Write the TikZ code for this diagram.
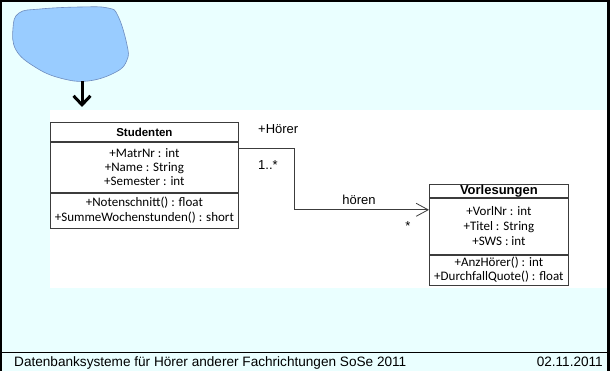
\documentclass[tikz,border=0pt]{standalone}
\usepackage{fontspec}
\setmainfont{Liberation Sans}
\newfontfamily\calibri{Carlito}
\usetikzlibrary{arrows.meta}
\definecolor{bgc}{RGB}{234,255,255}
\definecolor{blobfill}{RGB}{153,204,255}
\definecolor{blobline}{RGB}{110,140,190}
\definecolor{umlline}{RGB}{60,60,60}
\begin{document}
\begin{tikzpicture}[x=1pt,y=-1pt,
  classhdr/.style={draw=umlline, line width=0.8pt, fill=white, anchor=north west, inner sep=0pt, font=\bfseries\fontsize{11.5}{12}\selectfont},
  classsec/.style={draw=umlline, line width=0.8pt, fill=white, anchor=north west, inner sep=0pt, align=center},
  lbl/.style={inner sep=0pt, font=\fontsize{13}{14}\selectfont},
  footlbl/.style={inner sep=0pt, font=\fontsize{13.6}{14}\selectfont},
  assoc/.style={draw=umlline, line width=0.8pt, -{Straight Barb[length=12pt,width=13pt]}},
  bigarrow/.style={line width=3pt, -{Straight Barb[length=9pt,width=17pt]}}
]
\useasboundingbox (0,0) rectangle (610,371);
\fill[bgc] (0,0) rectangle (610,371);
\fill[white] (50,110) rectangle (607,288);
% frame
\fill[black] (0,0) rectangle (2,371);
\fill[black] (0,0) rectangle (610,2);
\fill[black] (607,0) rectangle (610,371);
\draw[line width=1pt] (0,352) -- (610,352);
% blob
\draw[fill=blobfill, draw=blobline, line width=0.6pt] plot[smooth cycle, tension=0.7] coordinates
 {(13,28) (19,13) (40,9) (80,7) (108,8) (118,16) (127,45) (127,60) (116,72) (88,81) (60,78) (35,67) (16,50)};
\coordinate (blobtip) at (82,81);
\coordinate (arrowend) at (82,107);
\draw[bigarrow] (blobtip) -- (arrowend);
% Studenten
\node[classhdr, minimum width=188pt, minimum height=19pt] (studH) at (50,122) {Studenten};
\node[classsec, minimum width=188pt, minimum height=50pt, font=\calibri\fontsize{13}{14}\selectfont] (studA) at (studH.south west) {+MatrNr : int\\+Name : String\\+Semester : int};
\node[classsec, minimum width=188pt, minimum height=35pt, font=\calibri\fontsize{13}{15}\selectfont] (studM) at (studA.south west) {+Notenschnitt() : float\\+SummeWochenstunden() : short};
% Vorlesungen
\node[classhdr, minimum width=139pt, minimum height=13pt, font=\bfseries\fontsize{13}{13}\selectfont] (vorlH) at (429,184) {Vorlesungen};
\node[classsec, minimum width=139pt, minimum height=56pt, font=\calibri\fontsize{13}{15}\selectfont] (vorlA) at (vorlH.south west) {+VorlNr : int\\+Titel : String\\+SWS : int};
\node[classsec, minimum width=139pt, minimum height=30pt, font=\calibri\fontsize{13}{14}\selectfont] (vorlM) at (vorlA.south west) {+AnzHörer() : int\\+DurchfallQuote() : float};
% association
\draw[assoc] ([yshift=-7pt]studA.north east) -- ++(56,0) |- ([yshift=-12pt]vorlA.north west);
\node[lbl, anchor=west] (role) at (258,129) {+Hörer};
\node[lbl, anchor=west] (mult1) at (258,165) {1..*};
\node[lbl] (assocname) at (359,200) {hören};
\node[lbl] (mult2) at (408,226) {*};
% footer
\node[footlbl, anchor=base west] (foot) at (14,366) {Datenbanksysteme für Hörer anderer Fachrichtungen SoSe 2011};
\node[footlbl, anchor=base east] (date) at (603,366) {02.11.2011};
\end{tikzpicture}
\end{document}
